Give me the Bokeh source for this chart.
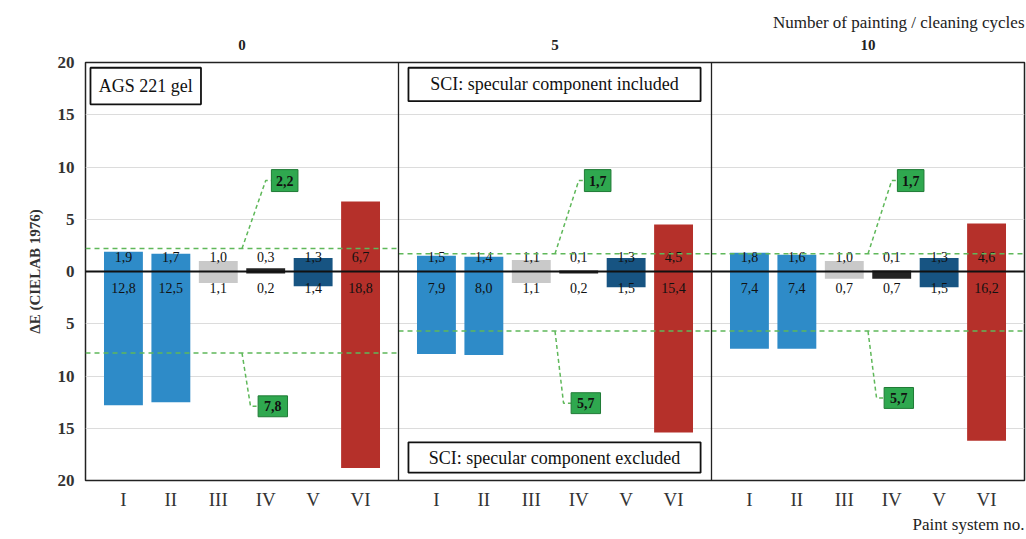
from bokeh.plotting import figure
from bokeh.models import (FixedTicker, LinearAxis, Title, ColumnDataSource, Range1d, Span)
from bokeh.embed import file_html
from bokeh.resources import INLINE
from bokeh.core.properties import value

# ---------------- data ----------------
cycles = ["0", "5", "10"]
systems = ["I", "II", "III", "IV", "V", "VI"]
sci_0 = [1.9, 1.7, 1.0, 0.3, 1.3, 6.7]
sce_0 = [12.8, 12.5, 1.1, 0.2, 1.4, 18.8]
sci_5 = [1.5, 1.4, 1.1, 0.1, 1.3, 4.5]
sce_5 = [7.9, 8.0, 1.1, 0.2, 1.5, 15.4]
sci_10 = [1.8, 1.6, 1.0, 0.1, 1.3, 4.6]
sce_10 = [7.4, 7.4, 0.7, 0.7, 1.5, 16.2]
sci_mean = [2.2, 1.7, 1.7]
sce_mean = [7.8, 5.7, 5.7]
y_ticks = [-20, -15, -10, -5, 0, 5, 10, 15, 20]

sci_all = [sci_0, sci_5, sci_10]
sce_all = [sce_0, sce_5, sce_10]

# ---------------- styles ----------------
bar_colors = ["#2e8bc8", "#2e8bc8", "#c9c9c9", "#222222", "#175482", "#b5302a"]
SERIF = value("Liberation Serif")
GREEN_LINE = "#5fb85a"
GREEN_BOX = "#2fa84f"
PANEL = 6.6
OFFSET = 0.8
BAR_W = 0.82


def fmt(v):
    return f"{v:.1f}".replace(".", ",")


p = figure(width=1026, height=539, output_backend="svg", toolbar_location=None,
           x_range=Range1d(0, 3 * PANEL), y_range=Range1d(-20, 20),
           min_border_left=85, min_border_right=2, min_border_top=62, min_border_bottom=59,
           background_fill_color="white", border_fill_color="white")
p.outline_line_color = "#222222"
p.outline_line_width = 1.5

# title (top right)
p.title.text = "Number of painting / cleaning cycles"
p.title.align = "right"
p.title.text_font = "Liberation Serif"
p.title.text_font_style = "normal"
p.title.text_font_size = "17px"
p.title.text_color = "#222222"

# bars
xs, tops, bottoms, cols = [], [], [], []
lab_x, lab_y, lab_t = [], [], []
centers = []
tick_pos, tick_lab = [], {}
for k in range(3):
    for i in range(6):
        x = round(k * PANEL + OFFSET + i, 3)
        tick_pos.append(x)
        tick_lab[x] = systems[i]
        # up bar (SCI)
        xs.append(x); bottoms.append(0); tops.append(sci_all[k][i]); cols.append(bar_colors[i])
        # down bar (SCE)
        xs.append(x); bottoms.append(-sce_all[k][i]); tops.append(0); cols.append(bar_colors[i])
        lab_x += [x, x]
        lab_y += [1.35, -1.55]
        lab_t += [fmt(sci_all[k][i]), fmt(sce_all[k][i])]
    centers.append(round(k * PANEL + PANEL / 2, 3))

p.vbar(x="x", top="top", bottom="bottom", width=BAR_W, color="color", line_color=None,
       source=ColumnDataSource(dict(x=xs, top=tops, bottom=bottoms, color=cols)))

p.text(x=lab_x, y=lab_y, text=lab_t, text_align="center", text_baseline="middle",
       text_font=SERIF, text_font_size="14px", text_color="#111111")

# mean dashed lines and callouts
lo_box_y = [-12.9, -12.6, -12.1]
for k in range(3):
    x0, x1 = k * PANEL, (k + 1) * PANEL
    c = centers[k]
    for m in (sci_mean[k], -sce_mean[k]):
        p.segment(x0=[x0], x1=[x1], y0=[m], y1=[m], line_color=GREEN_LINE,
                  line_width=1.5, line_dash="5 4")
    # upper callout
    uy = 8.7
    p.line(x=[c, c + 0.5, c + 0.62], y=[sci_mean[k], uy, uy], line_color=GREEN_LINE,
           line_width=1.5, line_dash="4 3")
    p.rect(x=[c + 0.9], y=[uy], width=0.56, height=2.1, fill_color=GREEN_BOX,
           line_color="#1f7a35", line_width=1)
    p.text(x=[c + 0.9], y=[uy], text=[fmt(sci_mean[k])], text_align="center",
           text_baseline="middle", text_font=SERIF, text_font_size="14px",
           text_font_style="bold", text_color="#111111")
    # lower callout
    ly = lo_box_y[k]
    p.line(x=[c, c + 0.18, c + 0.35], y=[-sce_mean[k], ly, ly], line_color=GREEN_LINE,
           line_width=1.5, line_dash="4 3")
    p.rect(x=[c + 0.65], y=[ly], width=0.62, height=2.0, fill_color=GREEN_BOX,
           line_color="#1f7a35", line_width=1)
    p.text(x=[c + 0.65], y=[ly], text=[fmt(sce_mean[k])], text_align="center",
           text_baseline="middle", text_font=SERIF, text_font_size="14px",
           text_font_style="bold", text_color="#111111")

# text boxes
box_x = [1.27, 9.89, 9.89]
box_y = [17.75, 17.9, -17.8]
box_w = [2.33, 6.16, 6.16]
box_h = [3.5, 3.2, 2.9]
box_t = ["AGS 221 gel", "SCI: specular component included", "SCI: specular component excluded"]
p.rect(x=box_x, y=box_y, width=box_w, height=box_h, fill_color="white",
       line_color="#111111", line_width=1.8)
p.text(x=box_x, y=box_y, text=box_t, text_align="center", text_baseline="middle",
       text_font=SERIF, text_font_size="18px", text_color="#111111")

# zero line and panel separators
p.add_layout(Span(location=0, dimension="width", line_color="#111111", line_width=1.8))
for k in (1, 2):
    p.add_layout(Span(location=k * PANEL, dimension="height", line_color="#222222", line_width=1.3))

# grid
p.xgrid.visible = False
p.ygrid.ticker = FixedTicker(ticks=[t for t in y_ticks if t not in (0, -20, 20)])
p.ygrid.grid_line_color = "#dcdcdc"
p.ygrid.grid_line_width = 1

# y axis
p.yaxis.ticker = FixedTicker(ticks=y_ticks)
p.yaxis.major_label_overrides = {t: str(abs(t)) for t in y_ticks}
p.yaxis.axis_label = "ΔE (CIELAB 1976)"
p.yaxis.axis_label_text_font = "Liberation Serif"
p.yaxis.axis_label_text_font_style = "bold"
p.yaxis.axis_label_text_font_size = "15px"
p.yaxis.axis_label_text_color = "#333333"
p.yaxis.axis_label_standoff = 12
p.yaxis.major_label_text_font = "Liberation Serif"
p.yaxis.major_label_text_font_style = "bold"
p.yaxis.major_label_text_font_size = "17px"
p.yaxis.major_label_text_color = "#333333"
p.yaxis.major_label_standoff = 5
p.yaxis.axis_line_color = None
p.yaxis.major_tick_line_color = None
p.yaxis.minor_tick_line_color = None

# x axis (below): paint systems
p.xaxis.ticker = FixedTicker(ticks=tick_pos)
p.xaxis.major_label_overrides = tick_lab
p.xaxis.major_label_text_font = "Liberation Serif"
p.xaxis.major_label_text_font_size = "19px"
p.xaxis.major_label_text_color = "#333333"
p.xaxis.major_label_standoff = 8
p.xaxis.major_tick_out = 0
p.xaxis.axis_line_color = None
p.xaxis.major_tick_line_color = None
p.xaxis.minor_tick_line_color = None

# top axis: cycles
top_axis = LinearAxis(ticker=FixedTicker(ticks=centers),
                      major_label_overrides={c: cycles[k] for k, c in enumerate(centers)})
top_axis.major_label_text_font = "Liberation Serif"
top_axis.major_label_text_font_style = "bold"
top_axis.major_label_text_font_size = "15px"
top_axis.major_label_text_color = "#222222"
top_axis.major_label_standoff = 7
top_axis.axis_line_color = None
top_axis.major_tick_line_color = None
top_axis.minor_tick_line_color = None
p.add_layout(top_axis, "above")

# bottom right title
p.add_layout(Title(text="Paint system no.", align="right", text_font="Liberation Serif",
                   text_font_style="normal", text_font_size="17px", text_color="#222222",
                   standoff=0), "below")

open("out.html", "w").write(file_html(p, INLINE))
